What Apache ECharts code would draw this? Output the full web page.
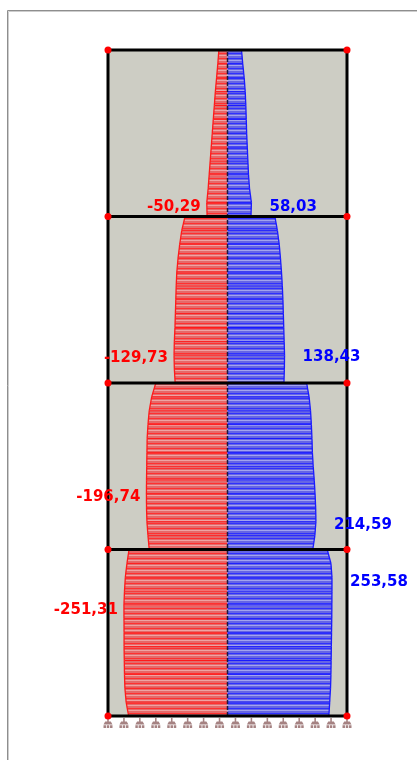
<!DOCTYPE html>
<html><head><meta charset="utf-8">
<script src="https://cdn.jsdelivr.net/npm/echarts@6/dist/echarts.min.js"></script>
<style>html,body{margin:0;padding:0;background:#fff;}#c{width:417px;height:760px;}</style>
</head><body><div id="c"></div>
<script>
// Storey levels (m) and local sampling heights within each storey
const storeyLevels = [0, 3, 6, 9, 12];
const sampleHeights = [0, 0.25, 0.5, 0.75, 1, 1.25, 1.5, 1.75, 2, 2.25, 2.5, 2.75, 3];

// Shear profiles per storey (storey 1 = ground), bottom -> top
const redStorey1  = [-240, -246, -249, -250, -250.5, -251, -251, -251.2, -251.31, -250, -248, -244, -239];
const blueStorey1 = [246, 248, 250, 251, 251.5, 252, 252.5, 253, 253.3, 253.5, 253.58, 251, 242];
const redStorey2  = [-190, -193, -195.5, -196.5, -196.74, -196.5, -196, -195.5, -195, -193, -190, -184, -174];
const blueStorey2 = [207, 212, 214.59, 214, 212.5, 210.5, 208, 206, 205, 203.5, 201.5, 198, 192];
const redStorey3  = [-127, -129, -129.73, -129, -127.5, -126.5, -125.5, -124.5, -123, -120, -116, -111, -103];
const blueStorey3 = [137, 138, 138.43, 137.5, 136.5, 135.5, 134.5, 133, 131, 128.5, 125.5, 121, 115];
const redStorey4  = [-49.5, -50.29, -47, -44.5, -42, -39.5, -37, -34.5, -32, -29.5, -26.5, -23.5, -21];
const blueStorey4 = [57, 58.03, 53.5, 51, 49.5, 48, 46.5, 45.5, 44.5, 43, 40.5, 37, 34];

// Extreme values and the heights where they are annotated
const redPeakValues  = [-251.31, -196.74, -129.73, -50.29];
const redPeakHeights = [1.91, 3.95, 6.45, 9.17];
const bluePeakValues  = [253.58, 214.59, 138.43, 58.03];
const bluePeakHeights = [2.41, 3.44, 6.47, 9.17];

// Frame geometry
const columnX = [-290, 290];
const supportX = [-290, -251.3, -212.7, -174, -135.3, -96.7, -58, -19.3, 19.3, 58, 96.7, 135.3, 174, 212.7, 251.3, 290];

function buildSegments(profiles) {
  const segs = [];
  profiles.forEach((vals, s) => {
    for (let i = 0; i < vals.length - 1; i++) {
      segs.push([vals[i], storeyLevels[s] + sampleHeights[i], vals[i + 1], storeyLevels[s] + sampleHeights[i + 1]]);
    }
  });
  return segs;
}
function stripe(base, pale, strong) {
  const cv = document.createElement('canvas'); cv.width = 4; cv.height = 5;
  const g = cv.getContext('2d');
  g.fillStyle = base; g.fillRect(0, 0, 4, 5);
  g.fillStyle = pale; g.fillRect(0, 0, 4, 1);
  g.fillStyle = strong; g.fillRect(0, 3, 4, 1);
  return { image: cv, repeat: 'repeat' };
}
const redFill = stripe('#e46a6a', '#efa3a3', '#ff3030');
const blueFill = stripe('#6666e3', '#a3a3ef', '#3030ff');

function makeRender(fill, lineColor) {
  return function (params, api) {
    const v0 = api.value(0), z0 = api.value(1), v1 = api.value(2), z1 = api.value(3);
    const a = api.coord([0, z0]), b = api.coord([v0, z0]), c = api.coord([v1, z1]), d = api.coord([0, z1]);
    return { type: 'group', children: [
      { type: 'polygon', shape: { points: [a, b, c, d] }, style: { fill: fill, stroke: null } },
      { type: 'line', shape: { x1: a[0], y1: a[1], x2: b[0], y2: b[1] }, style: { stroke: lineColor, lineWidth: 1 } },
      { type: 'line', shape: { x1: b[0], y1: b[1], x2: c[0], y2: c[1] }, style: { stroke: lineColor, lineWidth: 1.3 } }
    ]};
  };
}

const frameMembers = [];
storeyLevels.forEach(L => frameMembers.push([columnX[0], L, columnX[1], L]));
columnX.forEach(x => frameMembers.push([x, storeyLevels[0], x, storeyLevels[storeyLevels.length - 1]]));
const nodes = [];
storeyLevels.forEach(L => columnX.forEach(x => nodes.push([x, L])));

const fmt = v => v.toFixed(2).replace('.', ',');
const labelFont = { fontSize: 15, fontWeight: 'bold', fontFamily: 'DejaVu Sans', opacity: 1 };

const chart = echarts.init(document.getElementById('c'), null, { renderer: 'canvas' });
chart.setOption({
  animation: false,
  backgroundColor: '#ffffff',
  graphic: [
    { type: 'rect', shape: { x: 7.5, y: 10.5, width: 440, height: 800 }, style: { fill: 'none', stroke: '#8e8e8e', lineWidth: 1 } },
    { type: 'rect', shape: { x: 8.5, y: 11.5, width: 440, height: 800 }, style: { fill: 'none', stroke: '#cdcdcd', lineWidth: 1 } }
  ],
  grid: { left: 108, top: 50, width: 239, height: 666, show: true, backgroundColor: '#cdcdc4', borderWidth: 0 },
  xAxis: { type: 'value', min: -290, max: 290, show: false },
  yAxis: { type: 'value', min: 0, max: 12, show: false },
  series: [
    { type: 'custom', data: buildSegments([redStorey1, redStorey2, redStorey3, redStorey4]),
      renderItem: makeRender(redFill, '#ff1a1a'), clip: false, z: 2, silent: true },
    { type: 'custom', data: buildSegments([blueStorey1, blueStorey2, blueStorey3, blueStorey4]),
      renderItem: makeRender(blueFill, '#1a1aff'), clip: false, z: 2, silent: true },
    { type: 'line', data: [[0, storeyLevels[0]], [0, storeyLevels[4]]], symbol: 'none', z: 3, clip: false,
      lineStyle: { color: '#1a1a40', width: 1.5, type: [4, 2] } },
    { type: 'custom', data: frameMembers, clip: false, z: 4, silent: true,
      renderItem: function (params, api) {
        const p = api.coord([api.value(0), api.value(1)]), q = api.coord([api.value(2), api.value(3)]);
        return { type: 'line', shape: { x1: p[0], y1: p[1], x2: q[0], y2: q[1] }, style: { stroke: '#000', lineWidth: 3 } };
      } },
    { type: 'scatter', data: nodes, symbol: 'circle', symbolSize: 7, itemStyle: { color: '#ff0000', opacity: 1 }, z: 5, clip: false },
    { type: 'scatter', data: supportX.map(x => [x, storeyLevels[0]]), clip: false, z: 4,
      symbol: 'path://M3.3 0h1.4v3.5h-1.4zM1.5 3.5h5l1.5 3h-8zM0 7.3h2.2v2.7h-2.2zM2.9 7.3h2.2v2.7h-2.2zM5.8 7.3h2.2v2.7h-2.2z', symbolSize: [9, 10], symbolOffset: [0, 7],
      itemStyle: { color: '#a58282', opacity: 1 } },
    { type: 'scatter', data: redPeakValues.map((v, i) => [v, redPeakHeights[i]]), symbolSize: 0.1, clip: false, z: 6,
      itemStyle: { color: 'rgba(0,0,0,0)', opacity: 1 },
      label: Object.assign({ show: true, position: 'left', distance: 6, color: '#ff0000', formatter: p => fmt(p.value[0]) }, labelFont) },
    { type: 'scatter', data: bluePeakValues.map((v, i) => [v, bluePeakHeights[i]]), symbolSize: 0.1, clip: false, z: 6,
      itemStyle: { color: 'rgba(0,0,0,0)', opacity: 1 },
      label: Object.assign({ show: true, position: 'right', distance: 18, color: '#0000ff', formatter: p => fmt(p.value[0]) }, labelFont) }
  ]
});
</script></body></html>
